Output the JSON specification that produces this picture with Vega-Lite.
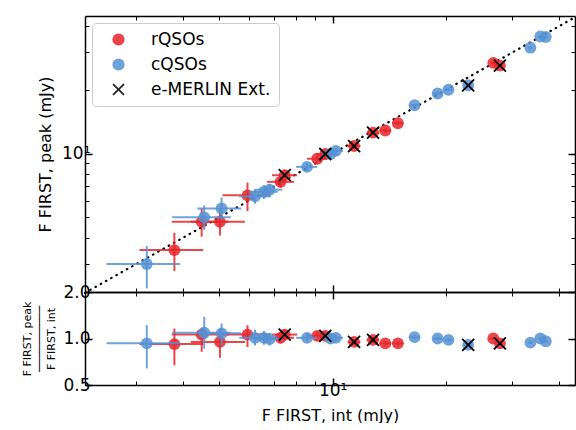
{
  "$schema": "https://vega.github.io/schema/vega-lite/v6.json",
  "padding": {"left": 21, "top": 12, "right": 0, "bottom": 0},
  "spacing": 0,
  "bounds": "flush",
  "config": {
    "font": "DejaVu Sans",
    "view": {"stroke": null},
    "axis": {
      "grid": false, "domainColor": "#000000", "domainWidth": 1.5, "tickColor": "#000000",
      "labelFont": "DejaVu Sans", "labelFontSize": 17, "labelColor": "#000000",
      "titleFont": "DejaVu Sans", "titleFontSize": 16, "titleFontWeight": "normal", "titleColor": "#000000"
    },
    "legend": {
      "orient": "top-left", "offset": 7, "padding": 8, "symbolOffset": 10,
      "labelFontSize": 17, "labelFont": "DejaVu Sans", "labelColor": "#000000", "symbolSize": 150, "rowPadding": 7, "labelOffset": 24,
      "strokeColor": "#cccccc", "fillColor": "#ffffff", "cornerRadius": 4, "symbolStrokeWidth": 0
    }
  },
  "datasets": {
    "pts": [
      {"t": "rQSOs", "e": 0, "x": 3.80, "xl": 3.07, "xh": 4.53, "y": 3.50, "yl": 2.79, "yh": 4.23, "r": 0.92, "rl": 0.67, "rh": 1.16},
      {"t": "rQSOs", "e": 0, "x": 4.49, "xl": 3.74, "xh": 5.30, "y": 4.76, "yl": 4.05, "yh": 5.51, "r": 1.06, "rl": 0.82, "rh": 1.17},
      {"t": "rQSOs", "e": 0, "x": 5.02, "xl": 4.20, "xh": 5.85, "y": 4.76, "yl": 4.10, "yh": 5.45, "r": 0.95, "rl": 0.75, "rh": 1.15},
      {"t": "rQSOs", "e": 0, "x": 5.94, "xl": 5.10, "xh": 6.80, "y": 6.35, "yl": 5.35, "yh": 7.30, "r": 1.06, "rl": 0.88, "rh": 1.22},
      {"t": "rQSOs", "e": 0, "x": 7.27, "xl": 6.70, "xh": 7.90, "y": 7.35, "yl": 6.90, "yh": 7.80, "r": 1.01, "rl": 0.93, "rh": 1.10},
      {"t": "rQSOs", "e": 1, "x": 7.46, "xl": 6.90, "xh": 8.05, "y": 7.90, "yl": 7.45, "yh": 8.35, "r": 1.06, "rl": 0.98, "rh": 1.14},
      {"t": "rQSOs", "e": 0, "x": 9.10, "xl": 8.55, "xh": 9.65, "y": 9.45, "yl": 9.05, "yh": 9.85, "r": 1.04, "rl": 0.98, "rh": 1.10},
      {"t": "rQSOs", "e": 1, "x": 9.56, "xl": 9.05, "xh": 10.1, "y": 9.95, "yl": 9.55, "yh": 10.35, "r": 1.04, "rl": 0.98, "rh": 1.10},
      {"t": "rQSOs", "e": 1, "x": 11.4, "xl": 10.95, "xh": 11.85, "y": 10.85, "yl": 10.55, "yh": 11.15, "r": 0.95, "rl": 0.91, "rh": 0.99},
      {"t": "rQSOs", "e": 1, "x": 12.8, "xl": 12.3, "xh": 13.3, "y": 12.55, "yl": 12.25, "yh": 12.85, "r": 0.98, "rl": 0.94, "rh": 1.02},
      {"t": "rQSOs", "e": 0, "x": 13.8, "xl": 13.3, "xh": 14.3, "y": 12.85, "yl": 12.55, "yh": 13.15, "r": 0.93, "rl": 0.90, "rh": 0.96},
      {"t": "rQSOs", "e": 0, "x": 14.9, "xl": 14.4, "xh": 15.4, "y": 13.9, "yl": 13.6, "yh": 14.2, "r": 0.93, "rl": 0.90, "rh": 0.96},
      {"t": "rQSOs", "e": 0, "x": 26.7, "xl": 26.2, "xh": 27.2, "y": 26.8, "yl": 26.5, "yh": 27.1, "r": 1.00, "rl": 0.98, "rh": 1.02},
      {"t": "rQSOs", "e": 1, "x": 27.8, "xl": 27.3, "xh": 28.3, "y": 26.0, "yl": 25.7, "yh": 26.3, "r": 0.93, "rl": 0.91, "rh": 0.95},
      {"t": "cQSOs", "e": 0, "x": 3.21, "xl": 2.51, "xh": 3.93, "y": 3.01, "yl": 2.31, "yh": 3.66, "r": 0.93, "rl": 0.64, "rh": 1.22},
      {"t": "cQSOs", "e": 0, "x": 4.56, "xl": 3.75, "xh": 5.36, "y": 5.00, "yl": 4.35, "yh": 5.70, "r": 1.09, "rl": 0.86, "rh": 1.38},
      {"t": "cQSOs", "e": 0, "x": 5.07, "xl": 4.37, "xh": 5.72, "y": 5.50, "yl": 4.85, "yh": 6.20, "r": 1.08, "rl": 0.90, "rh": 1.25},
      {"t": "cQSOs", "e": 0, "x": 6.22, "xl": 5.65, "xh": 6.85, "y": 6.28, "yl": 5.80, "yh": 6.80, "r": 1.01, "rl": 0.90, "rh": 1.14},
      {"t": "cQSOs", "e": 0, "x": 6.57, "xl": 6.00, "xh": 7.15, "y": 6.60, "yl": 6.10, "yh": 7.10, "r": 1.01, "rl": 0.91, "rh": 1.12},
      {"t": "cQSOs", "e": 0, "x": 6.80, "xl": 6.25, "xh": 7.35, "y": 6.75, "yl": 6.30, "yh": 7.20, "r": 0.99, "rl": 0.90, "rh": 1.09},
      {"t": "cQSOs", "e": 0, "x": 8.55, "xl": 8.00, "xh": 9.10, "y": 8.65, "yl": 8.25, "yh": 9.05, "r": 1.01, "rl": 0.95, "rh": 1.08},
      {"t": "cQSOs", "e": 0, "x": 9.87, "xl": 9.40, "xh": 10.35, "y": 9.95, "yl": 9.60, "yh": 10.30, "r": 1.00, "rl": 0.95, "rh": 1.05},
      {"t": "cQSOs", "e": 0, "x": 10.2, "xl": 9.75, "xh": 10.65, "y": 10.3, "yl": 9.95, "yh": 10.65, "r": 1.01, "rl": 0.96, "rh": 1.06},
      {"t": "cQSOs", "e": 0, "x": 16.5, "xl": 16.0, "xh": 17.0, "y": 16.9, "yl": 16.6, "yh": 17.2, "r": 1.02, "rl": 0.99, "rh": 1.05},
      {"t": "cQSOs", "e": 0, "x": 19.0, "xl": 18.5, "xh": 19.5, "y": 19.2, "yl": 18.9, "yh": 19.5, "r": 1.00, "rl": 0.97, "rh": 1.03},
      {"t": "cQSOs", "e": 0, "x": 20.3, "xl": 19.8, "xh": 20.8, "y": 20.0, "yl": 19.7, "yh": 20.3, "r": 0.98, "rl": 0.95, "rh": 1.01},
      {"t": "cQSOs", "e": 1, "x": 22.9, "xl": 22.4, "xh": 23.4, "y": 21.0, "yl": 20.7, "yh": 21.3, "r": 0.91, "rl": 0.89, "rh": 0.93},
      {"t": "cQSOs", "e": 0, "x": 33.5, "xl": 33.0, "xh": 34.0, "y": 31.6, "yl": 31.3, "yh": 31.9, "r": 0.94, "rl": 0.92, "rh": 0.96},
      {"t": "cQSOs", "e": 0, "x": 35.6, "xl": 35.1, "xh": 36.1, "y": 35.7, "yl": 35.4, "yh": 36.0, "r": 1.00, "rl": 0.98, "rh": 1.02},
      {"t": "cQSOs", "e": 0, "x": 36.8, "xl": 36.3, "xh": 37.3, "y": 35.5, "yl": 35.2, "yh": 35.8, "r": 0.96, "rl": 0.94, "rh": 0.98}
    ],
    "diag": [{"v": 2.2}, {"v": 44}]
  },
  "vconcat": [
    {
      "width": 490, "height": 276,
      "resolve": {"axis": {"x": "independent", "y": "independent"}},
      "layer": [
        {
          "data": {"name": "diag"},
          "mark": {"type": "line", "color": "#000000", "strokeDash": [0.5, 5.5], "strokeWidth": 2.2, "strokeCap": "round"},
          "encoding": {
            "x": {"field": "v", "type": "quantitative", "scale": {"type": "log", "domain": [2.2, 44], "nice": false},
                  "axis": {"orient": "top", "labels": false, "title": null, "values": [3,4,5,6,7,8,9,10,20,30,40],
                           "tickSize": {"condition": {"test": "datum.value == 10", "value": -7}, "value": -4},
                           "tickWidth": {"condition": {"test": "datum.value == 10", "value": 1.5}, "value": 1}}},
            "y": {"field": "v", "type": "quantitative", "scale": {"type": "log", "domain": [2.22, 44.6], "nice": false},
                  "axis": {"orient": "right", "labels": false, "title": null, "values": [3,4,5,6,7,8,9,10,20,30,40],
                           "tickSize": {"condition": {"test": "datum.value == 10", "value": -7}, "value": -4},
                           "tickWidth": {"condition": {"test": "datum.value == 10", "value": 1.5}, "value": 1}}}
          }
        },
        {
          "data": {"name": "pts"},
          "transform": [{"filter": "datum.t == 'rQSOs'"}],
          "mark": {"type": "rule", "color": "#e8252a", "strokeWidth": 2, "opacity": 0.85},
          "encoding": {
            "x": {"field": "xl", "type": "quantitative", "axis": null},
            "x2": {"field": "xh"},
            "y": {"field": "y", "type": "quantitative", "axis": null}
          }
        },
        {
          "data": {"name": "pts"},
          "transform": [{"filter": "datum.t == 'rQSOs'"}],
          "mark": {"type": "rule", "color": "#e8252a", "strokeWidth": 2, "opacity": 0.85},
          "encoding": {
            "x": {"field": "x", "type": "quantitative", "axis": null},
            "y": {"field": "yl", "type": "quantitative", "axis": null},
            "y2": {"field": "yh"}
          }
        },
        {
          "data": {"name": "pts"},
          "transform": [{"filter": "datum.t == 'rQSOs'"}],
          "mark": {"type": "point", "filled": true, "size": 140, "opacity": 0.85},
          "encoding": {
            "x": {"field": "x", "type": "quantitative",
                  "axis": {"orient": "bottom", "labels": false, "title": null, "values": [3,4,5,6,7,8,9,10,20,30,40],
                           "tickSize": {"condition": {"test": "datum.value == 10", "value": -7}, "value": -4},
                           "tickWidth": {"condition": {"test": "datum.value == 10", "value": 1.5}, "value": 1}}},
            "y": {"field": "y", "type": "quantitative",
                  "axis": {"orient": "left", "values": [3,4,5,6,7,8,9,10,20,30,40], "labelExpr": "datum.value == 10 ? '10¹' : ''",
                           "title": "F FIRST, peak (mJy)", "titlePadding": 8,
                           "tickSize": {"condition": {"test": "datum.value == 10", "value": -7}, "value": -4},
                           "tickWidth": {"condition": {"test": "datum.value == 10", "value": 1.5}, "value": 1}}},
            "color": {"field": "t", "type": "nominal",
                      "scale": {"domain": ["rQSOs", "cQSOs", "e-MERLIN Ext."], "range": ["#e8252a", "#5592d4", "#000000"]},
                      "legend": {"title": null}},
            "shape": {"field": "t", "type": "nominal",
                      "scale": {"domain": ["rQSOs", "cQSOs", "e-MERLIN Ext."],
                                "range": ["circle", "circle", "M0,-0.21L0.79,-1L1,-0.79L0.21,0L1,0.79L0.79,1L0,0.21L-0.79,1L-1,0.79L-0.21,0L-1,-0.79L-0.79,-1Z"]},
                      "legend": {"title": null}}
          }
        },
        {
          "data": {"name": "pts"},
          "transform": [{"filter": "datum.t == 'cQSOs'"}],
          "mark": {"type": "rule", "color": "#5592d4", "strokeWidth": 2, "opacity": 0.85},
          "encoding": {
            "x": {"field": "x", "type": "quantitative", "axis": null},
            "y": {"field": "yl", "type": "quantitative", "axis": null},
            "y2": {"field": "yh"}
          }
        },
        {
          "data": {"name": "pts"},
          "transform": [{"filter": "datum.t == 'cQSOs'"}],
          "mark": {"type": "rule", "color": "#5592d4", "strokeWidth": 2, "opacity": 0.85},
          "encoding": {
            "x": {"field": "xl", "type": "quantitative", "axis": null},
            "x2": {"field": "xh"},
            "y": {"field": "y", "type": "quantitative", "axis": null}
          }
        },
        {
          "data": {"name": "pts"},
          "transform": [{"filter": "datum.t == 'cQSOs'"}],
          "mark": {"type": "point", "filled": true, "size": 140, "opacity": 0.85},
          "encoding": {
            "x": {"field": "x", "type": "quantitative", "axis": null},
            "y": {"field": "y", "type": "quantitative", "axis": null},
            "color": {"field": "t", "type": "nominal"},
            "shape": {"field": "t", "type": "nominal"}
          }
        },
        {
          "data": {"name": "pts"},
          "transform": [{"filter": "datum.e == 1"}],
          "mark": {"type": "point", "shape": "M-1,-1L1,1M-1,1L1,-1", "filled": false, "size": 144, "strokeWidth": 1.8, "opacity": 1, "color": "#000000"},
          "encoding": {
            "x": {"field": "x", "type": "quantitative", "axis": null},
            "y": {"field": "y", "type": "quantitative", "axis": null}
          }
        }
      ]
    },
    {
      "width": 490, "height": 93,
      "resolve": {"axis": {"x": "independent", "y": "independent"}},
      "layer": [
        {
          "mark": {"type": "rule", "color": "#cccccc", "strokeWidth": 2},
          "encoding": {
            "y": {"datum": 1, "type": "quantitative", "scale": {"type": "log", "domain": [0.5, 2], "nice": false},
                  "axis": {"orient": "right", "labels": false, "title": null, "values": [0.5, 1, 2], "tickSize": -7, "tickWidth": 1.5}}
          }
        },
        {
          "data": {"name": "pts"},
          "transform": [{"filter": "datum.t == 'rQSOs'"}],
          "mark": {"type": "rule", "color": "#e8252a", "strokeWidth": 2, "opacity": 0.85},
          "encoding": {
            "x": {"field": "xl", "type": "quantitative", "scale": {"type": "log", "domain": [2.2, 44], "nice": false},
                  "axis": {"orient": "top", "labels": false, "title": null, "values": [3,4,5,6,7,8,9,10,20,30,40],
                           "tickSize": {"condition": {"test": "datum.value == 10", "value": -7}, "value": -4},
                           "tickWidth": {"condition": {"test": "datum.value == 10", "value": 1.5}, "value": 1}}},
            "x2": {"field": "xh"},
            "y": {"field": "r", "type": "quantitative", "axis": null}
          }
        },
        {
          "data": {"name": "pts"},
          "transform": [{"filter": "datum.t == 'rQSOs'"}],
          "mark": {"type": "rule", "color": "#e8252a", "strokeWidth": 2, "opacity": 0.85},
          "encoding": {
            "x": {"field": "x", "type": "quantitative", "axis": null},
            "y": {"field": "rl", "type": "quantitative", "axis": null},
            "y2": {"field": "rh"}
          }
        },
        {
          "data": {"name": "pts"},
          "transform": [{"filter": "datum.t == 'rQSOs'"}],
          "mark": {"type": "circle", "size": 140, "opacity": 0.85, "color": "#e8252a"},
          "encoding": {
            "x": {"field": "x", "type": "quantitative",
                  "axis": {"orient": "bottom", "values": [3,4,5,6,7,8,9,10,20,30,40], "labelExpr": "datum.value == 10 ? '10¹' : ''",
                           "title": "F FIRST, int (mJy)", "titlePadding": 9, "labelPadding": 4,
                           "tickSize": {"condition": {"test": "datum.value == 10", "value": -7}, "value": -4},
                           "tickWidth": {"condition": {"test": "datum.value == 10", "value": 1.5}, "value": 1}}},
            "y": {"field": "r", "type": "quantitative",
                  "axis": {"orient": "left", "values": [0.5, 1, 2], "format": ".1f", "tickSize": -7, "tickWidth": 1.5,
                           "title": ["F FIRST, peak", "──────────", "F FIRST, int"], "titleFontSize": 11, "titleLineHeight": 12, "titlePadding": 6}}
          }
        },
        {
          "data": {"name": "pts"},
          "transform": [{"filter": "datum.t == 'cQSOs'"}],
          "mark": {"type": "rule", "color": "#5592d4", "strokeWidth": 2, "opacity": 0.85},
          "encoding": {
            "x": {"field": "xl", "type": "quantitative", "axis": null},
            "x2": {"field": "xh"},
            "y": {"field": "r", "type": "quantitative", "axis": null}
          }
        },
        {
          "data": {"name": "pts"},
          "transform": [{"filter": "datum.t == 'cQSOs'"}],
          "mark": {"type": "rule", "color": "#5592d4", "strokeWidth": 2, "opacity": 0.85},
          "encoding": {
            "x": {"field": "x", "type": "quantitative", "axis": null},
            "y": {"field": "rl", "type": "quantitative", "axis": null},
            "y2": {"field": "rh"}
          }
        },
        {
          "data": {"name": "pts"},
          "transform": [{"filter": "datum.t == 'cQSOs'"}],
          "mark": {"type": "circle", "size": 140, "opacity": 0.85, "color": "#5592d4"},
          "encoding": {
            "x": {"field": "x", "type": "quantitative", "axis": null},
            "y": {"field": "r", "type": "quantitative", "axis": null}
          }
        },
        {
          "data": {"name": "pts"},
          "transform": [{"filter": "datum.e == 1"}],
          "mark": {"type": "point", "shape": "M-1,-1L1,1M-1,1L1,-1", "filled": false, "size": 144, "strokeWidth": 1.8, "opacity": 1, "color": "#000000"},
          "encoding": {
            "x": {"field": "x", "type": "quantitative", "axis": null},
            "y": {"field": "r", "type": "quantitative", "axis": null}
          }
        }
      ]
    }
  ]
}
